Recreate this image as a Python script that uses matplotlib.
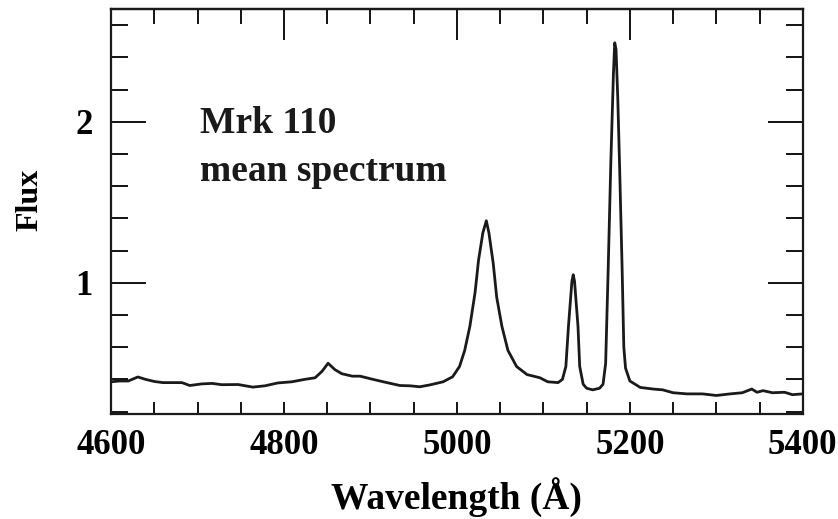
import matplotlib.pyplot as plt
from matplotlib.ticker import MultipleLocator

# values
wavelength = [4600, 4610, 4620, 4631, 4640, 4650, 4660, 4682, 4691, 4705,
              4717, 4728, 4747, 4764, 4778, 4793, 4809, 4824, 4836, 4844,
              4851, 4859, 4867, 4879, 4888, 4903, 4919, 4934, 4946, 4957,
              4969, 4984, 4995, 5003, 5009, 5015, 5021, 5025, 5030, 5034,
              5037, 5042, 5046, 5052, 5059, 5069, 5081, 5096, 5105, 5117,
              5122, 5126, 5129, 5131, 5133, 5134.5, 5136, 5138, 5140, 5142,
              5146, 5150, 5157, 5165, 5169, 5172, 5175, 5178, 5181, 5182.5,
              5184, 5186, 5188, 5191, 5193, 5195, 5200, 5212, 5227, 5238,
              5250, 5266, 5284, 5300, 5316, 5330, 5341, 5347, 5354, 5365,
              5379, 5388, 5400]
flux = [0.385, 0.39, 0.39, 0.415, 0.40, 0.387, 0.38, 0.38, 0.362, 0.372,
        0.375, 0.367, 0.368, 0.352, 0.36, 0.378, 0.385, 0.40, 0.41, 0.45,
        0.50, 0.46, 0.435, 0.42, 0.42, 0.40, 0.38, 0.362, 0.36, 0.354,
        0.366, 0.385, 0.416, 0.48, 0.58, 0.73, 0.94, 1.14, 1.31, 1.385,
        1.31, 1.12, 0.91, 0.73, 0.58, 0.48, 0.43, 0.41, 0.385, 0.38,
        0.40, 0.48, 0.73, 0.87, 1.01, 1.05, 1.01, 0.87, 0.73, 0.48,
        0.37, 0.345, 0.335, 0.345, 0.37, 0.50, 1.10, 1.75, 2.30, 2.49,
        2.45, 2.15, 1.75, 1.10, 0.60, 0.47, 0.39, 0.35, 0.34, 0.335,
        0.317, 0.31, 0.31, 0.30, 0.31, 0.317, 0.34, 0.32, 0.33, 0.317,
        0.32, 0.305, 0.31]

label_lines = ["Mrk 110", "mean spectrum"]

plt.rcParams['font.family'] = ['Liberation Serif', 'DejaVu Serif']
plt.rcParams['font.weight'] = 'bold'

fig = plt.figure(figsize=(8.38, 5.19), dpi=100)
ax = fig.add_axes([0.1325, 0.2023, 0.8255, 0.7804])

ax.plot(wavelength, flux, color='#1a1a1a', lw=2.0, solid_joinstyle='round')

ax.set_xlim(4600, 5400)
ax.set_ylim(0.185, 2.70)

ax.xaxis.set_major_locator(MultipleLocator(200))
ax.xaxis.set_minor_locator(MultipleLocator(50))
ax.yaxis.set_major_locator(MultipleLocator(1))
ax.yaxis.set_minor_locator(MultipleLocator(0.2))

ax.tick_params(axis='x', which='both', direction='in', length=8.6, width=1.3,
               top=False, pad=11, labelsize=25)
ax.tick_params(axis='y', which='major', direction='in', length=25, width=1.3,
               left=True, right=True, pad=13, labelsize=25)
ax.tick_params(axis='y', which='minor', direction='in', length=12.5, width=1.3,
               left=True, right=True)

# top axis has longer major ticks than the bottom one
top = ax.secondary_xaxis('top')
top.xaxis.set_major_locator(MultipleLocator(200))
top.xaxis.set_minor_locator(MultipleLocator(50))
top.tick_params(which='major', direction='in', length=22, width=1.3, labeltop=False)
top.tick_params(which='minor', direction='in', length=10.8, width=1.3)
top.spines['top'].set_linewidth(1.6)

for s in ax.spines.values():
    s.set_linewidth(1.6)
    s.set_color('#1a1a1a')

ax.set_xlabel("Wavelength (Å)", fontsize=27, fontweight='bold')
ax.xaxis.set_label_coords(0.5, -0.205)
ax.set_ylabel("Flux", fontsize=23, fontweight='bold')
ax.yaxis.set_label_coords(-0.117, 0.528)
ax.yaxis.label.set_va('center')
ax.xaxis.label.set_va('center')

ax.text(4703, 1.99, label_lines[0], fontsize=27, fontweight='bold',
        ha='left', va='center', color='#1a1a1a')
ax.text(4703, 1.69, label_lines[1], fontsize=27, fontweight='bold',
        ha='left', va='center', color='#1a1a1a')

fig.savefig("out.png", dpi=100)
